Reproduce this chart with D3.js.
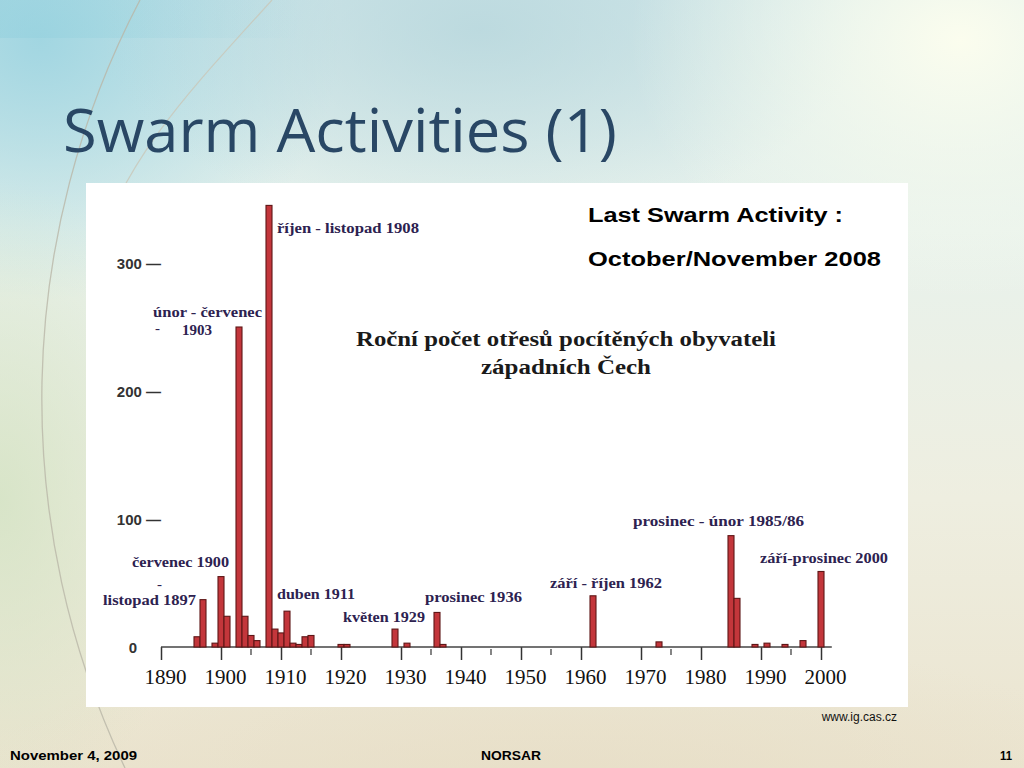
<!DOCTYPE html>
<html>
<head>
<meta charset="utf-8">
<script src="https://cdn.jsdelivr.net/npm/d3@7"></script>
<style>
  html, body { margin: 0; padding: 0; background: #fff; }
  svg { display: block; }
</style>
</head>
<body>
<svg id="slide" width="1024" height="768"></svg>
<script>
// ---------------- DATA ----------------
const years  = [1896, 1897, 1899, 1900, 1901, 1903, 1904, 1905, 1906, 1908, 1909, 1910, 1911, 1912, 1913, 1914, 1915,
                1920, 1921, 1929, 1931, 1936, 1937, 1962, 1973, 1985, 1986, 1989, 1991, 1994, 1997, 2000];
const counts = [8, 37, 3, 55, 24, 250, 24, 9, 5, 345, 14, 11, 28, 3, 2, 8, 9,
                2, 2, 14, 3, 27, 2, 40, 4, 87, 38, 2, 3, 2, 5, 59];

const xTickYears   = [1890, 1900, 1910, 1920, 1930, 1940, 1950, 1960, 1970, 1980, 1990, 2000];
const xMinorYears  = [1905, 1915, 1935, 1945, 1955, 1975, 1995];
const yTickValues  = [0, 100, 200, 300];

const annotTexts = ["říjen - listopad 1908", "únor - červenec", "-", "1903", "červenec 1900", "-",
                    "listopad 1897", "duben 1911", "květen 1929", "prosinec 1936", "září - říjen 1962",
                    "prosinec -  únor 1985/86", "září-prosinec 2000"];

const chartTitleLines = ["Roční počet otřesů pocítěných obyvateli", "západních Čech"];
const slideTitle = "Swarm Activities (1)";
const sideNote = ["Last Swarm Activity :", "October/November 2008"];
const sourceText = "www.ig.cas.cz";
const footerTexts = ["November 4, 2009", "NORSAR", "11"];

// ---------------- LAYOUT (positions, not data) ----------------
// annotation anchor in data space: [year, count, textLength, fontSize]
const annotLayout = [
  [1909.33, 323.4, 142, 15], [1888.67, 257.8, 109, 15], [1889.0, 245.0, 5, 12], [1893.5, 243.7, 30, 15],
  [1885.17, 62.5, 97, 15], [1889.33, 45.5, 5, 12], [1880.33, 32.8, 93, 15], [1909.33, 37.5, 78, 15],
  [1920.33, 19.5, 82, 15], [1934.0, 35.2, 97, 15], [1954.83, 46.1, 112, 15], [1968.67, 94.5, 171, 15],
  [1989.83, 65.6, 128, 15]
];

const svg = d3.select("#slide");
const defs = svg.append("defs");

// ---------------- BACKGROUND ----------------
const gV = defs.append("linearGradient").attr("id", "bgV").attr("x1", 0).attr("y1", 0).attr("x2", 0).attr("y2", 1);
[[0, "#d3e8ea"], [0.3, "#e8f2ec"], [0.65, "#eeeee0"], [1, "#ebe4cf"]]
  .forEach(([o, c]) => gV.append("stop").attr("offset", o).attr("stop-color", c));

function radial(id, color, op) {
  const g = defs.append("radialGradient").attr("id", id);
  g.append("stop").attr("offset", 0).attr("stop-color", color).attr("stop-opacity", op);
  g.append("stop").attr("offset", 1).attr("stop-color", color).attr("stop-opacity", 0);
}
radial("rTL", "#9fd5e1", 0.95);
radial("rTM", "#b6d6dc", 0.8);
radial("rTR", "#fbfdee", 1);
radial("rL", "#d2e2c2", 0.8);
radial("rB", "#e6dcc4", 0.7);

svg.append("rect").attr("width", 1024).attr("height", 768).attr("fill", "url(#bgV)");
svg.append("ellipse").attr("cx", 40).attr("cy", 40).attr("rx", 300).attr("ry", 260).attr("fill", "url(#rTL)");
svg.append("ellipse").attr("cx", 480).attr("cy", 30).attr("rx", 380).attr("ry", 200).attr("fill", "url(#rTM)");
svg.append("ellipse").attr("cx", 960).attr("cy", 40).attr("rx", 330).attr("ry", 260).attr("fill", "url(#rTR)");
svg.append("ellipse").attr("cx", 0).attr("cy", 500).attr("rx", 200).attr("ry", 320).attr("fill", "url(#rL)");
svg.append("ellipse").attr("cx", 560).attr("cy", 790).attr("rx", 600).attr("ry", 160).attr("fill", "url(#rB)");

// soft top band at left
const gBand = defs.append("linearGradient").attr("id", "band").attr("x1", 0).attr("x2", 1);
gBand.append("stop").attr("offset", 0).attr("stop-color", "#8fcfdd").attr("stop-opacity", 0.45);
gBand.append("stop").attr("offset", 1).attr("stop-color", "#8fcfdd").attr("stop-opacity", 0);
svg.append("rect").attr("x", 0).attr("y", 0).attr("width", 300).attr("height", 38).attr("fill", "url(#band)");

// decorative arcs
svg.append("path").attr("d", "M140,0 A860,860 0 0 0 125,768")
  .attr("fill", "none").attr("stroke", "#b9b7a8").attr("stroke-width", 1.3).attr("opacity", 0.8);
svg.append("path").attr("d", "M272,0 C200,80 120,160 95,260")
  .attr("fill", "none").attr("stroke", "#c9c7b8").attr("stroke-width", 1.2).attr("opacity", 0.8);

// ---------------- SLIDE TITLE ----------------
svg.append("text").attr("x", 63).attr("y", 152)
  .attr("font-family", "'Open Sans', 'DejaVu Sans', sans-serif").attr("font-size", 60)
  .attr("fill", "#294765").attr("textLength", 554).attr("lengthAdjust", "spacingAndGlyphs")
  .text(slideTitle);

// ---------------- WHITE PANEL ----------------
svg.append("rect").attr("x", 86).attr("y", 183).attr("width", 822).attr("height", 524).attr("fill", "#ffffff");

// ---------------- CHART ----------------
const x = d3.scaleLinear().domain([1890, 2000]).range([161, 821]);
const y = d3.scaleLinear().domain([0, 300]).range([647, 263]);
const barW = x(1891) - x(1890);

const chart = svg.append("g");

// x axis
const xAxis = d3.axisBottom(x).tickValues(xTickYears).tickSize(13).tickFormat(d3.format("d"));
const gx = chart.append("g").attr("transform", `translate(0,${y(0)})`).call(xAxis);
gx.select(".domain").remove();
gx.selectAll(".tick line").attr("stroke", "#333").attr("stroke-width", 1.5);
gx.selectAll(".tick text")
  .attr("y", 22).attr("dy", "0.71em").attr("dx", 4)
  .attr("font-family", "'Liberation Serif', 'Times New Roman', serif").attr("font-size", 21)
  .attr("fill", "#111");
chart.append("line").attr("x1", x(1890)).attr("x2", x(2001.8)).attr("y1", y(0)).attr("y2", y(0))
  .attr("stroke", "#444").attr("stroke-width", 1.5);
chart.selectAll(".minor").data(xMinorYears).join("line").attr("class", "minor")
  .attr("x1", d => x(d)).attr("x2", d => x(d)).attr("y1", y(0) + 2).attr("y2", y(0) + 8)
  .attr("stroke", "#444").attr("stroke-width", 1.3);

// y axis (labels with dash ticks)
const yAxis = d3.axisLeft(y).tickValues(yTickValues).tickSize(0).tickPadding(0)
  .tickFormat(d => d === 0 ? "0" : d + " —");
const gy = chart.append("g").attr("transform", "translate(161,0)").call(yAxis);
gy.select(".domain").remove();
gy.selectAll(".tick text")
  .attr("font-family", "'Liberation Sans', Arial, sans-serif").attr("font-size", 15).attr("font-weight", "bold")
  .attr("fill", "#333").attr("dy", "0.35em");
gy.selectAll(".tick").filter(d => d === 0).select("text").attr("text-anchor", "middle").attr("x", -28);

// bars
chart.selectAll(".bar").data(years.map((yr, i) => ({ yr, v: counts[i] }))).join("rect")
  .attr("class", "bar")
  .attr("x", d => x(d.yr) - barW / 2).attr("width", barW)
  .attr("y", d => y(d.v)).attr("height", d => y(0) - y(d.v))
  .attr("fill", "#c3363b").attr("stroke", "#5e1616").attr("stroke-width", 1.1);

// annotations
chart.selectAll(".annot").data(annotTexts.map((t, i) => ({ t, p: annotLayout[i] }))).join("text")
  .attr("class", "annot")
  .attr("x", d => x(d.p[0])).attr("y", d => y(d.p[1]))
  .attr("textLength", d => d.p[2]).attr("lengthAdjust", "spacingAndGlyphs")
  .attr("font-family", "'Liberation Serif', 'Times New Roman', serif").attr("font-size", d => d.p[3])
  .attr("font-weight", "bold").attr("fill", "#2d2250")
  .text(d => d.t);

// chart inner title
const ctLayout = [[566, 346, 420], [566, 374, 170]];
chart.selectAll(".ctitle").data(chartTitleLines).join("text").attr("class", "ctitle")
  .attr("x", (d, i) => ctLayout[i][0]).attr("y", (d, i) => ctLayout[i][1])
  .attr("text-anchor", "middle").attr("textLength", (d, i) => ctLayout[i][2]).attr("lengthAdjust", "spacingAndGlyphs")
  .attr("font-family", "'Liberation Serif', 'Times New Roman', serif").attr("font-size", 20)
  .attr("font-weight", "bold").attr("fill", "#1a1a1a")
  .text(d => d);

// side note
const snLayout = [[588, 222, 255], [588, 266, 293]];
svg.selectAll(".sidenote").data(sideNote).join("text").attr("class", "sidenote")
  .attr("x", (d, i) => snLayout[i][0]).attr("y", (d, i) => snLayout[i][1])
  .attr("textLength", (d, i) => snLayout[i][2]).attr("lengthAdjust", "spacingAndGlyphs")
  .attr("font-family", "'Liberation Sans', Arial, sans-serif").attr("font-size", 20)
  .attr("font-weight", "bold").attr("fill", "#000")
  .text(d => d);

// source
svg.append("text").attr("x", 897).attr("y", 721).attr("text-anchor", "end")
  .attr("font-family", "'Liberation Sans', Arial, sans-serif").attr("font-size", 12)
  .attr("fill", "#111").text(sourceText);

// footer
const ftLayout = [[10, 760, "start", 127], [511, 760, "middle", 60], [1012, 760, "end", 12]];
svg.selectAll(".footer").data(footerTexts).join("text").attr("class", "footer")
  .attr("x", (d, i) => ftLayout[i][0]).attr("y", (d, i) => ftLayout[i][1])
  .attr("text-anchor", (d, i) => ftLayout[i][2])
  .attr("textLength", (d, i) => ftLayout[i][3]).attr("lengthAdjust", "spacingAndGlyphs")
  .attr("font-family", "'Liberation Sans Narrow', 'Liberation Sans', Arial, sans-serif").attr("font-size", 13)
  .attr("font-weight", "bold").attr("fill", "#000")
  .text(d => d);
</script>
</body>
</html>
